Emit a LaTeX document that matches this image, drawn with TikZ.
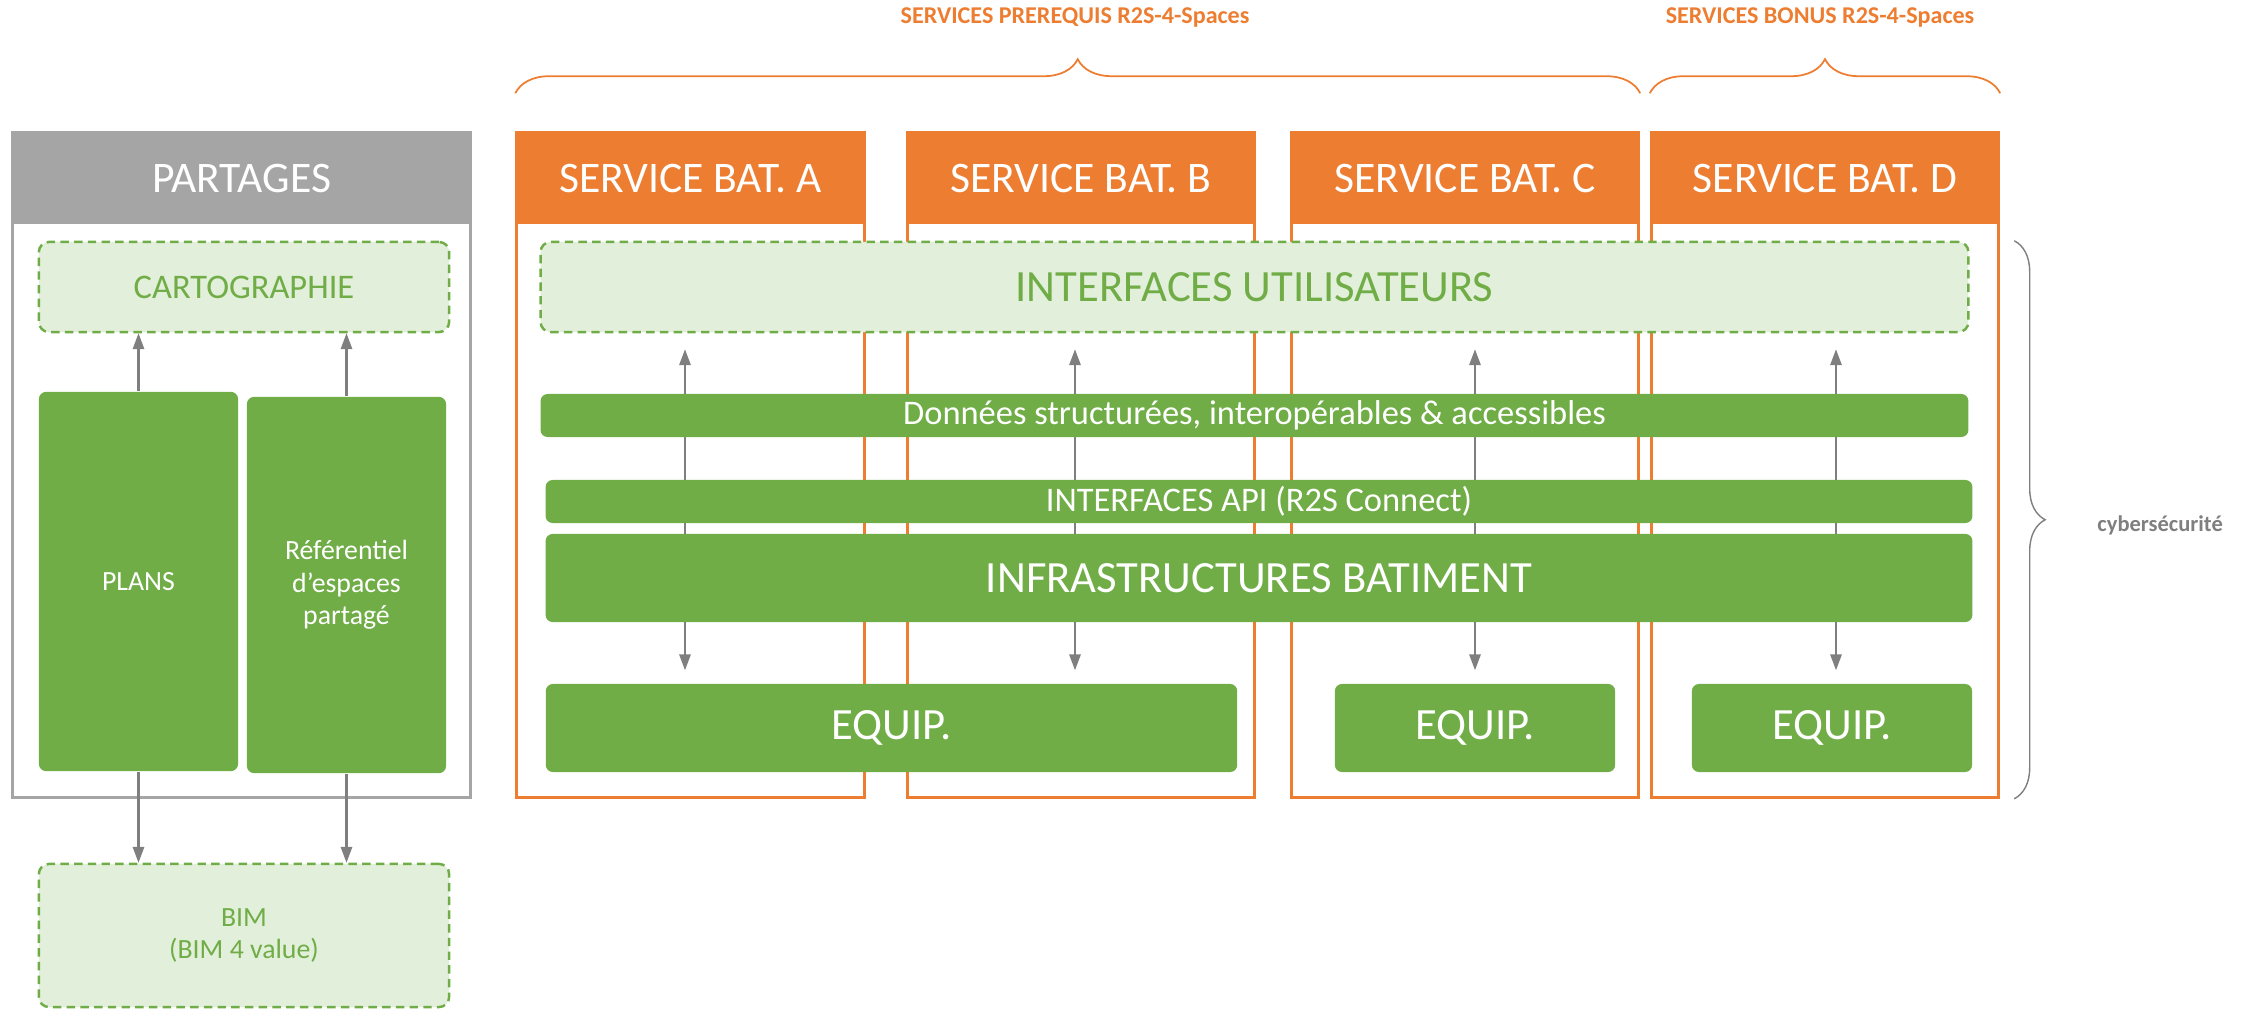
\documentclass[tikz,border=0pt]{standalone}
\usepackage{fontspec}
\setmainfont{Carlito}
\usetikzlibrary{arrows.meta,decorations.pathreplacing,backgrounds}

\definecolor{orng}{HTML}{ED7D31}
\definecolor{grn}{HTML}{70AD47}
\definecolor{lgrn}{HTML}{E2EFDA}
\definecolor{gry}{HTML}{A5A5A5}
\definecolor{darr}{HTML}{7F7F7F}

\begin{document}
\begin{tikzpicture}
[x=0.01cm,y=-0.01cm
,box/.style={rectangle,inner sep=0pt}
,frame/.style={box,draw=gry,line width=0.9pt}
,head/.style={box,fill=gry,text=white,font=\fontsize{12.4}{14}\selectfont}
,srv/.style={box,draw=orng,line width=0.9pt}
,srvhead/.style={head,fill=orng}
,ghost/.style={box,draw=grn,fill=lgrn,dash pattern=on 2.4pt off 1.5pt,line width=0.7pt,rounded corners=0.1cm,text=grn,align=center}
,layer/.style={box,fill=grn,text=white,rounded corners=0.07cm,align=center}
,big/.style={font=\fontsize{12.7}{14}\selectfont}
,mid/.style={font=\fontsize{9.8}{11}\selectfont}
,small/.style={font=\fontsize{7.9}{9.2}\selectfont}
,arr/.style={draw=darr,line width=0.6pt,arrows={-Triangle[length=4.5pt,width=3.2pt]}}
,dbl/.style={arr,arrows={Triangle[length=4.5pt,width=3.2pt]-Triangle[length=4.5pt,width=3.2pt]}}
,brc/.style={draw=orng,line width=0.5pt,decorate,decoration={brace,amplitude=0.34cm}}
,cbrc/.style={draw=darr,line width=0.4pt,decorate,decoration={brace,amplitude=0.31cm}}
,tag/.style={text=orng,font=\fontsize{6.85}{8}\selectfont\bfseries}
,cyb/.style={text=darr,font=\fontsize{6.4}{8}\selectfont\bfseries}
]
\useasboundingbox (0,0) rectangle (2247,1009);

% partages
\node[frame,minimum width=4.57cm,minimum height=6.64cm] (part) at (241.5,465) {};
\node[head,minimum width=4.57cm,minimum height=0.91cm] (parthead) at (241.5,178.5) {PARTAGES};
\node[ghost,mid,minimum width=4.10cm,minimum height=0.90cm] (carto) at (244,287) {CARTOGRAPHIE};
\node[layer,small,minimum width=1.99cm,minimum height=3.79cm] (plans) at (138.5,581.5) {PLANS};
\node[layer,small,minimum width=1.99cm,minimum height=3.76cm] (refesp) at (346.5,585) {Référentiel\\d’espaces\\partagé};
\node[ghost,small,minimum width=4.10cm,minimum height=1.43cm] (bim) at (244,935.5) {BIM\\(BIM 4 value)};
\draw[arr] (plans.north) -- (plans.north |- carto.south);
\draw[arr] (refesp.north) -- (refesp.north |- carto.south);
\draw[arr] (plans.south) -- (plans.south |- bim.north);
\draw[arr] (refesp.south) -- (refesp.south |- bim.north);

% services
\foreach \n/\l/\cx in {a/A/690.5,b/B/1081,c/C/1465,d/D/1825}
{
\node[srv,minimum width=3.47cm,minimum height=6.64cm] (srv\n) at (\cx,465) {};
\node[srvhead,minimum width=3.47cm,minimum height=0.91cm] (head\n) at (\cx,178.5) {SERVICE BAT. \l};
}
\coordinate (cola) at (685,0);
\coordinate (colb) at (1075,0);
\coordinate (colc) at (1475,0);
\coordinate (cold) at (1836,0);

% couches
\node[ghost,big,minimum width=14.27cm,minimum height=0.90cm] (ui) at (1254.5,287) {INTERFACES UTILISATEURS};
\node[layer,mid,minimum width=14.27cm,minimum height=0.43cm] (data) at (1254.5,415.5) {Données structurées, interopérables \& accessibles};
\node[layer,mid,minimum width=14.26cm,minimum height=0.43cm] (api) at (1259,501.5) {INTERFACES API (R2S Connect)};
\node[layer,big,minimum width=14.26cm,minimum height=0.88cm] (infra) at (1259,578) {INFRASTRUCTURES BATIMENT};
\node[layer,big,minimum width=6.91cm,minimum height=0.88cm] (eqab) at (891.5,728) {EQUIP.};
\node[layer,big,minimum width=2.80cm,minimum height=0.88cm] (eqc) at (1475,728) {EQUIP.};
\node[layer,big,minimum width=2.80cm,minimum height=0.88cm] (eqd) at (1832,728) {EQUIP.};
\begin{scope}[on background layer]
\foreach \c/\eq in {cola/eqab,colb/eqab,colc/eqc,cold/eqd}
  \draw[dbl,shorten <=0.16cm,shorten >=0.13cm] (ui.south -| \c) -- (\eq.north -| \c);
\end{scope}

% accolades
\draw[brc] ([yshift=0.38cm]srva.north west) -- ([yshift=0.38cm]srvc.north east);
\draw[brc] ([yshift=0.38cm]srvd.north west) -- ([yshift=0.38cm]srvd.north east);
\node[tag] (pretag) at (1075,17) {SERVICES PREREQUIS R2S-4-Spaces};
\node[tag] (bontag) at (1820,17) {SERVICES BONUS R2S-4-Spaces};
\draw[cbrc] ([xshift=0.14cm]srvd.east |- ui.north) -- ([xshift=0.14cm]srvd.south east);
\node[cyb,anchor=west] (cyber) at (2085,525) {cybersécurité};
\end{tikzpicture}
\end{document}
